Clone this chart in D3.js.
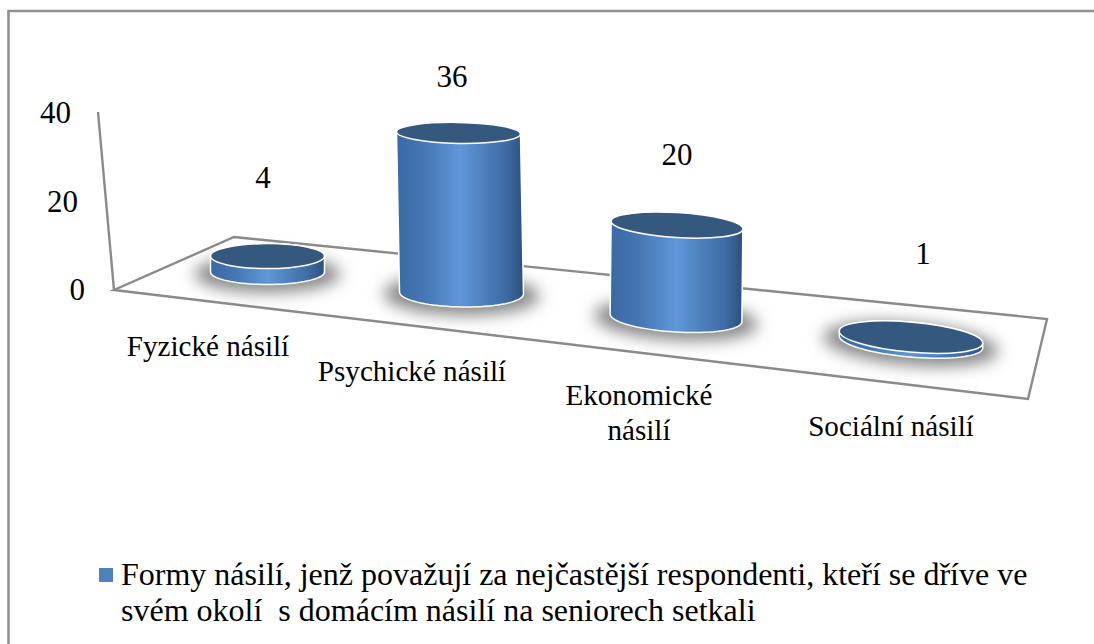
<!DOCTYPE html>
<html><head><meta charset="utf-8">
<script src="https://cdn.jsdelivr.net/npm/d3@7"></script>
<style>
html,body{margin:0;padding:0;background:#fff}
svg{display:block}
text{font-family:"Liberation Serif",serif;fill:#000}
</style></head><body>
<svg id="c" width="1094" height="644"></svg>
<script>
// ---- data
const categories = ["Fyzické násilí","Psychické násilí","Ekonomické násilí","Sociální násilí"];
const values = [4,36,20,1];
const tickValues = [0,20,40];
const categoryLines = [["Fyzické násilí"],["Psychické násilí"],["Ekonomické","násilí"],["Sociální násilí"]];
const legendLines = ["Formy násilí, jenž považují za nejčastější respondenti, kteří se dříve ve","svém okolí  s domácím násilí na seniorech setkali"];

// ---- perspective layout: scales that place a category on the receding floor
const baseX   = d3.scaleOrdinal(categories,[267.5,461.5,676,911]);
const baseY   = d3.scaleOrdinal(categories,[272,293,318,342]);
const lean    = d3.scaleOrdinal(categories,[0,-3,1,0]);
const radiusX = d3.scaleOrdinal(categories,[57,62,66,72]);
const radiusY = d3.scaleOrdinal(categories,[12.5,10.5,12.5,15]);
const baseRY  = d3.scaleOrdinal(categories,[12.5,14,14,15]);
const tilt    = d3.scaleOrdinal(categories,[0,1,3.5,5]);
const depth   = d3.scaleOrdinal(categories,[0.9,1.005,1.05,1.1]);
const labelX  = d3.scaleOrdinal(categories,[208,412,639,891]);
const labelY  = d3.scaleOrdinal(categories,[356,381,405,436]);
const valueX  = d3.scaleOrdinal(categories,[263,452,677,923]);
const valueY  = d3.scaleOrdinal(categories,[188,87,165,264]);

const y = d3.scaleLinear().domain([0,40]).range([300,123]);
const wallX = d3.scaleLinear().domain([0,40]).range([85,71]);
const heightOf = v => (y(0)-y(v));

const svg = d3.select("#c");
const defs = svg.append("defs");
const grad = defs.append("linearGradient").attr("id","side");
[[0,"#3a69a4"],[0.22,"#4677b3"],[0.5,"#5f97da"],[0.62,"#5488c6"],[0.85,"#3f6da6"],[1,"#2e507c"]]
  .forEach(([o,c])=>grad.append("stop").attr("offset",o).attr("stop-color",c));
defs.append("filter").attr("id","blur").attr("x","-30%").attr("y","-80%").attr("width","160%").attr("height","260%")
  .append("feGaussianBlur").attr("stdDeviation",8);

// frame
svg.append("path").attr("d","M8.5,644V11H1094").attr("fill","none").attr("stroke","#929292").attr("stroke-width",2.6);

// floor & wall
const floorPts = [[114,290],[1028,399],[1047,319],[234,237]];
svg.append("path").attr("d",d3.line()(floorPts)+"Z").attr("fill","#fff").attr("stroke","#8a8a8a").attr("stroke-width",2.4);
svg.append("path").attr("d",d3.line()([[98,112],[114,290]])).attr("fill","none").attr("stroke","#8a8a8a").attr("stroke-width",2.4);

// axis labels
svg.append("g").selectAll("text").data(tickValues).join("text")
  .attr("x",d=>wallX(d)).attr("y",d=>y(d)).attr("text-anchor","end").attr("font-size",31).text(d=>d);

// ellipse outline sampled through a tilt
const ellipsePoint = (cx,cy,rx,ry,deg,t)=>{
  const a=deg*Math.PI/180, px=rx*Math.cos(t), py=ry*Math.sin(t);
  return [cx+px*Math.cos(a)-py*Math.sin(a), cy+px*Math.sin(a)+py*Math.cos(a)];
};
const line = d3.line();

const g = svg.append("g").selectAll("g").data(categories.map((c,i)=>({c,v:values[i]}))).join("g");
// shadow
g.append("ellipse")
  .attr("cx",d=>baseX(d.c)).attr("cy",d=>baseY(d.c)+2)
  .attr("rx",d=>radiusX(d.c)+16).attr("ry",d=>baseRY(d.c)+6)
  .attr("transform",d=>`rotate(${tilt(d.c)} ${baseX(d.c)} ${baseY(d.c)})`)
  .attr("fill","#858585").attr("filter","url(#blur)");
// body
g.append("path").attr("fill","url(#side)").attr("stroke","#fff").attr("stroke-width",1.5)
  .attr("d",d=>{
    const topY=baseY(d.c)-heightOf(d.v)*depth(d.c), topX=baseX(d.c)+lean(d.c);
    const low=d3.range(0,Math.PI+0.01,Math.PI/40).map(t=>ellipsePoint(baseX(d.c),baseY(d.c),radiusX(d.c),baseRY(d.c),tilt(d.c),t));
    const up=d3.range(Math.PI,2*Math.PI+0.01,Math.PI/40).map(t=>ellipsePoint(topX,topY,radiusX(d.c),radiusY(d.c),tilt(d.c),t));
    return line(low.concat(up))+"Z";
  });
// cap
g.append("ellipse")
  .attr("cx",d=>baseX(d.c)+lean(d.c)).attr("cy",d=>baseY(d.c)-heightOf(d.v)*depth(d.c))
  .attr("rx",d=>radiusX(d.c)).attr("ry",d=>radiusY(d.c))
  .attr("transform",d=>`rotate(${tilt(d.c)} ${baseX(d.c)+lean(d.c)} ${baseY(d.c)-heightOf(d.v)*depth(d.c)})`)
  .attr("fill","#35587f").attr("stroke","#fff").attr("stroke-width",1.5);

// value labels
svg.append("g").selectAll("text").data(categories).join("text")
  .attr("x",c=>valueX(c)).attr("y",c=>valueY(c)).attr("text-anchor","middle").attr("font-size",31)
  .text((c,i)=>values[i]);

// category labels
const cat = svg.append("g").selectAll("text").data(categories).join("text")
  .attr("x",c=>labelX(c)).attr("y",c=>labelY(c)).attr("text-anchor","middle").attr("font-size",29.1);
cat.selectAll("tspan").data((c,i)=>categoryLines[i].map(l=>({l,c}))).join("tspan")
  .attr("x",d=>labelX(d.c)).attr("dy",(d,i)=>i?35:0).text(d=>d.l);

// legend
svg.append("rect").attr("x",99).attr("y",568).attr("width",14).attr("height",14).attr("fill","#4f81bd");
svg.append("g").selectAll("text").data(legendLines).join("text")
  .attr("x",121).attr("y",(d,i)=>585+i*36).attr("font-size",32).attr("xml:space","preserve").style("white-space","pre").text(d=>d);
</script></body></html>
